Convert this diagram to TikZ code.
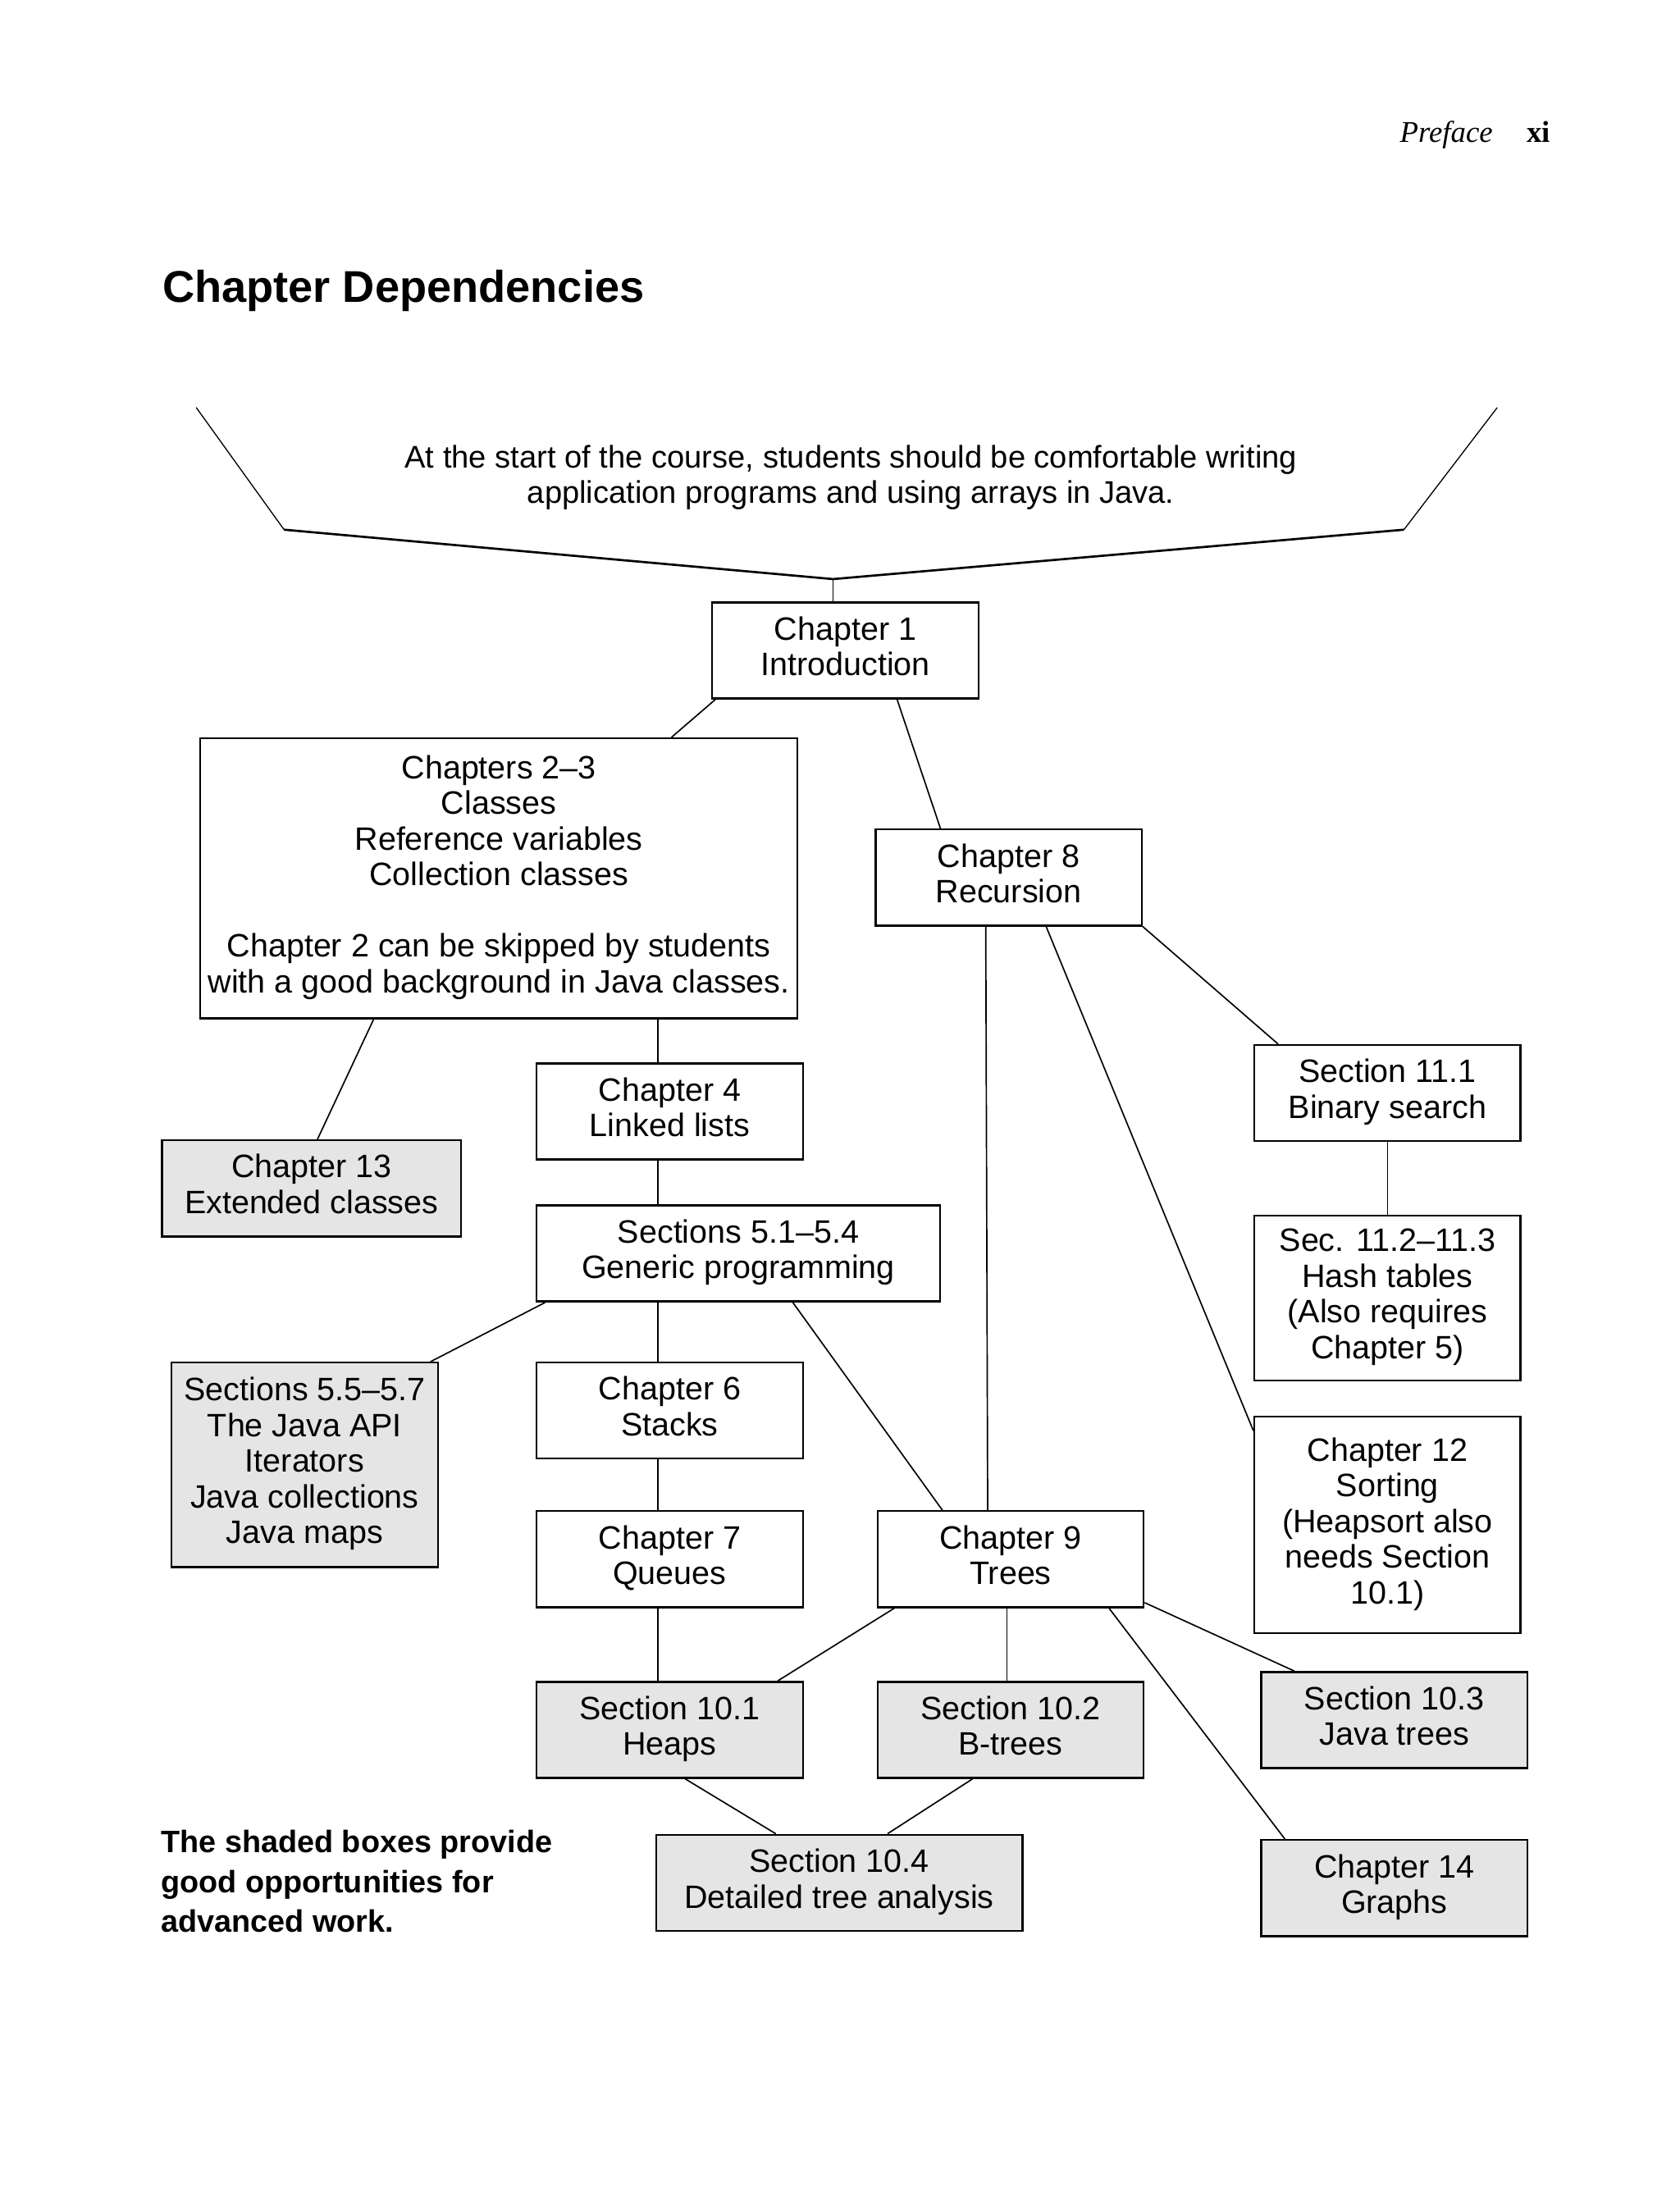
\documentclass[tikz,border=0pt]{standalone}
\usepackage{fontspec}
\setmainfont{Liberation Sans}
\newfontfamily\runfont{Liberation Serif}
\usetikzlibrary{positioning,calc}
\newcommand\boxstrut{\rule[-3.2pt]{0pt}{13pt}}

\begin{document}
\begin{tikzpicture}[
  x=0.5pt, y=-0.5pt,
  box/.style={draw, line width=0.7pt, minimum width=97pt, minimum height=35pt,
    inner sep=2pt, align=center, font=\fontsize{11.8}{13}\selectfont,
    execute at begin node=\boxstrut, execute at end node=\boxstrut},
  shaded/.style={box, fill=black!10},
  link/.style={line width=0.5pt}
]
\useasboundingbox (0,0) rectangle (1224,1593);

% Page head and heading
\node[anchor=base east, inner sep=0pt, font=\runfont\fontsize{11}{13}\selectfont\bfseries] (folio) at (1130,104) {xi};
\node[anchor=base east, inner sep=0pt, font=\runfont\fontsize{11}{13}\selectfont\itshape] (runhead) at ([xshift=-12pt]folio.base west) {Preface};
\node[anchor=base west, inner sep=0pt, font=\fontsize{16.2}{19}\selectfont\bfseries] (title) at (118,220) {Chapter Dependencies};

% Starting point
\coordinate (rimL) at (143,297);
\coordinate (bendL) at (207,386);
\coordinate (tip) at (607,422);
\coordinate (bendR) at (1023,386);
\coordinate (rimR) at (1091,297);
\draw[line width=0.4pt] (rimL) -- (bendL);
\draw[line width=0.8pt] (bendL) -- (tip) -- (bendR);
\draw[line width=0.4pt] (bendR) -- (rimR);
\node[align=center, font=\fontsize{11.4}{12.6}\selectfont] (start) at (620,348) {At the start of the course, students should be comfortable writing\\
  application programs and using arrays in Java.};

% Main chain
\node[box] (ch1) at (616,474) {Chapter 1\\Introduction};
\node[box, minimum width=217.5pt, minimum height=102pt] (ch23) at (363.5,640) {Chapters 2--3\\
  Classes\\
  Reference variables\\
  Collection classes\\[13pt]
  Chapter 2 can be skipped by students\\
  with a good background in Java classes.};
\node[box] (ch8) at (735,639.5) {Chapter 8\\Recursion};
\node[shaded, minimum width=109pt] (ch13) at (227,866) {Chapter 13\\Extended classes};

% Left column
\node[box] (ch4) at (488,810) {Chapter 4\\Linked lists};
\node[box, minimum width=147pt, below right=16pt and 0pt of ch4.south west] (sec51) {Sections 5.1--5.4\\Generic programming};
\node[shaded, minimum height=74.5pt] (sec55) at (222,1067.5) {Sections 5.5--5.7\\
  The Java API\\
  Iterators\\
  Java collections\\
  Java maps};
\node[box, below right=21.5pt and 0pt of sec51.south west] (ch6) {Chapter 6\\Stacks};
\node[box, below=18.5pt of ch6] (ch7) {Chapter 7\\Queues};
\node[shaded, below=26.5pt of ch7] (sec101) {Section 10.1\\Heaps};

% Trees
\node[box, right=26.5pt of ch7] (ch9) {Chapter 9\\Trees};
\node[shaded, right=26.5pt of sec101] (sec102) {Section 10.2\\B-trees};
\node[shaded, minimum width=133.5pt] (sec104) at (611.5,1372) {Section 10.4\\Detailed tree analysis};

% Right column
\node[box] (sec111) at (1011,796.5) {Section 11.1\\Binary search};
\node[box, minimum height=60pt, below=26.5pt of sec111] (sec112) {Sec. 11.2--11.3\\
  Hash tables\\
  (Also requires\\
  Chapter 5)};
\node[box, minimum height=79pt, below=12.5pt of sec112] (ch12) {Chapter 12\\
  Sorting\\
  (Heapsort also\\
  needs Section\\
  10.1)};
\node[shaded] (sec103) at (1016,1253.5) {Section 10.3\\Java trees};
\node[shaded, below=25.5pt of sec103] (ch14) {Chapter 14\\Graphs};

% Note
\node[anchor=west, align=left, inner sep=0pt, font=\fontsize{11.3}{14.5}\selectfont\bfseries] (note) at (117,1371) {The shaded boxes provide\\
  good opportunities for\\
  advanced work.};

% Links
\draw[link] (tip) -- (tip |- ch1.north);
\draw[link] ($(ch1.south west)+(3,0)$) -- ($(ch23.north west)+(344,0)$);
\draw[link] ($(ch1.south east)+(-60,0)$) -- ($(ch8.north west)+(48,0)$);
\draw[link] ($(ch23.south west)+(127,0)$) -- ($(ch13.north west)+(114,0)$);
\draw[link] ($(ch23.south west)+(334,0)$) -- ($(ch4.north west)+(89,0)$);
\draw[link] (ch8.south east) -- ($(sec111.north west)+(18,0)$);
\draw[link] ($(ch8.south west)+(81,0)$) -- ($(ch9.north west)+(81,0)$);
\draw[link] ($(ch8.south west)+(125,0)$) -- ($(ch12.north west)+(0,11)$);
\draw[link] (sec111) -- (sec112);
\draw[link] ($(ch4.south west)+(89,0)$) -- ($(sec51.north west)+(89,0)$);
\draw[link] ($(sec51.south west)+(7,0)$) -- ($(sec55.north east)+(-6,0)$);
\draw[link] ($(sec51.south west)+(89,0)$) -- ($(ch6.north west)+(89,0)$);
\draw[link] ($(sec51.south east)+(-108,0)$) -- ($(ch9.north west)+(48,0)$);
\draw[link] ($(ch6.south west)+(89,0)$) -- ($(ch7.north west)+(89,0)$);
\draw[link] ($(ch7.south west)+(89,0)$) -- ($(sec101.north west)+(89,0)$);
\draw[link] ($(ch9.south west)+(13,0)$) -- ($(sec101.north east)+(-19,0)$);
\draw[link] ($(ch9.south west)+(95,0)$) -- ($(sec102.north west)+(95,0)$);
\draw[link] ($(ch9.south east)+(0,-4)$) -- ($(sec103.north west)+(25,0)$);
\draw[link] ($(ch9.south east)+(-26,0)$) -- ($(ch14.north west)+(18,0)$);
\draw[link] ($(sec101.south west)+(109,0)$) -- ($(sec104.north west)+(88,0)$);
\draw[link] ($(sec102.south west)+(70,0)$) -- ($(sec104.north east)+(-99,0)$);

\end{tikzpicture}
\end{document}
